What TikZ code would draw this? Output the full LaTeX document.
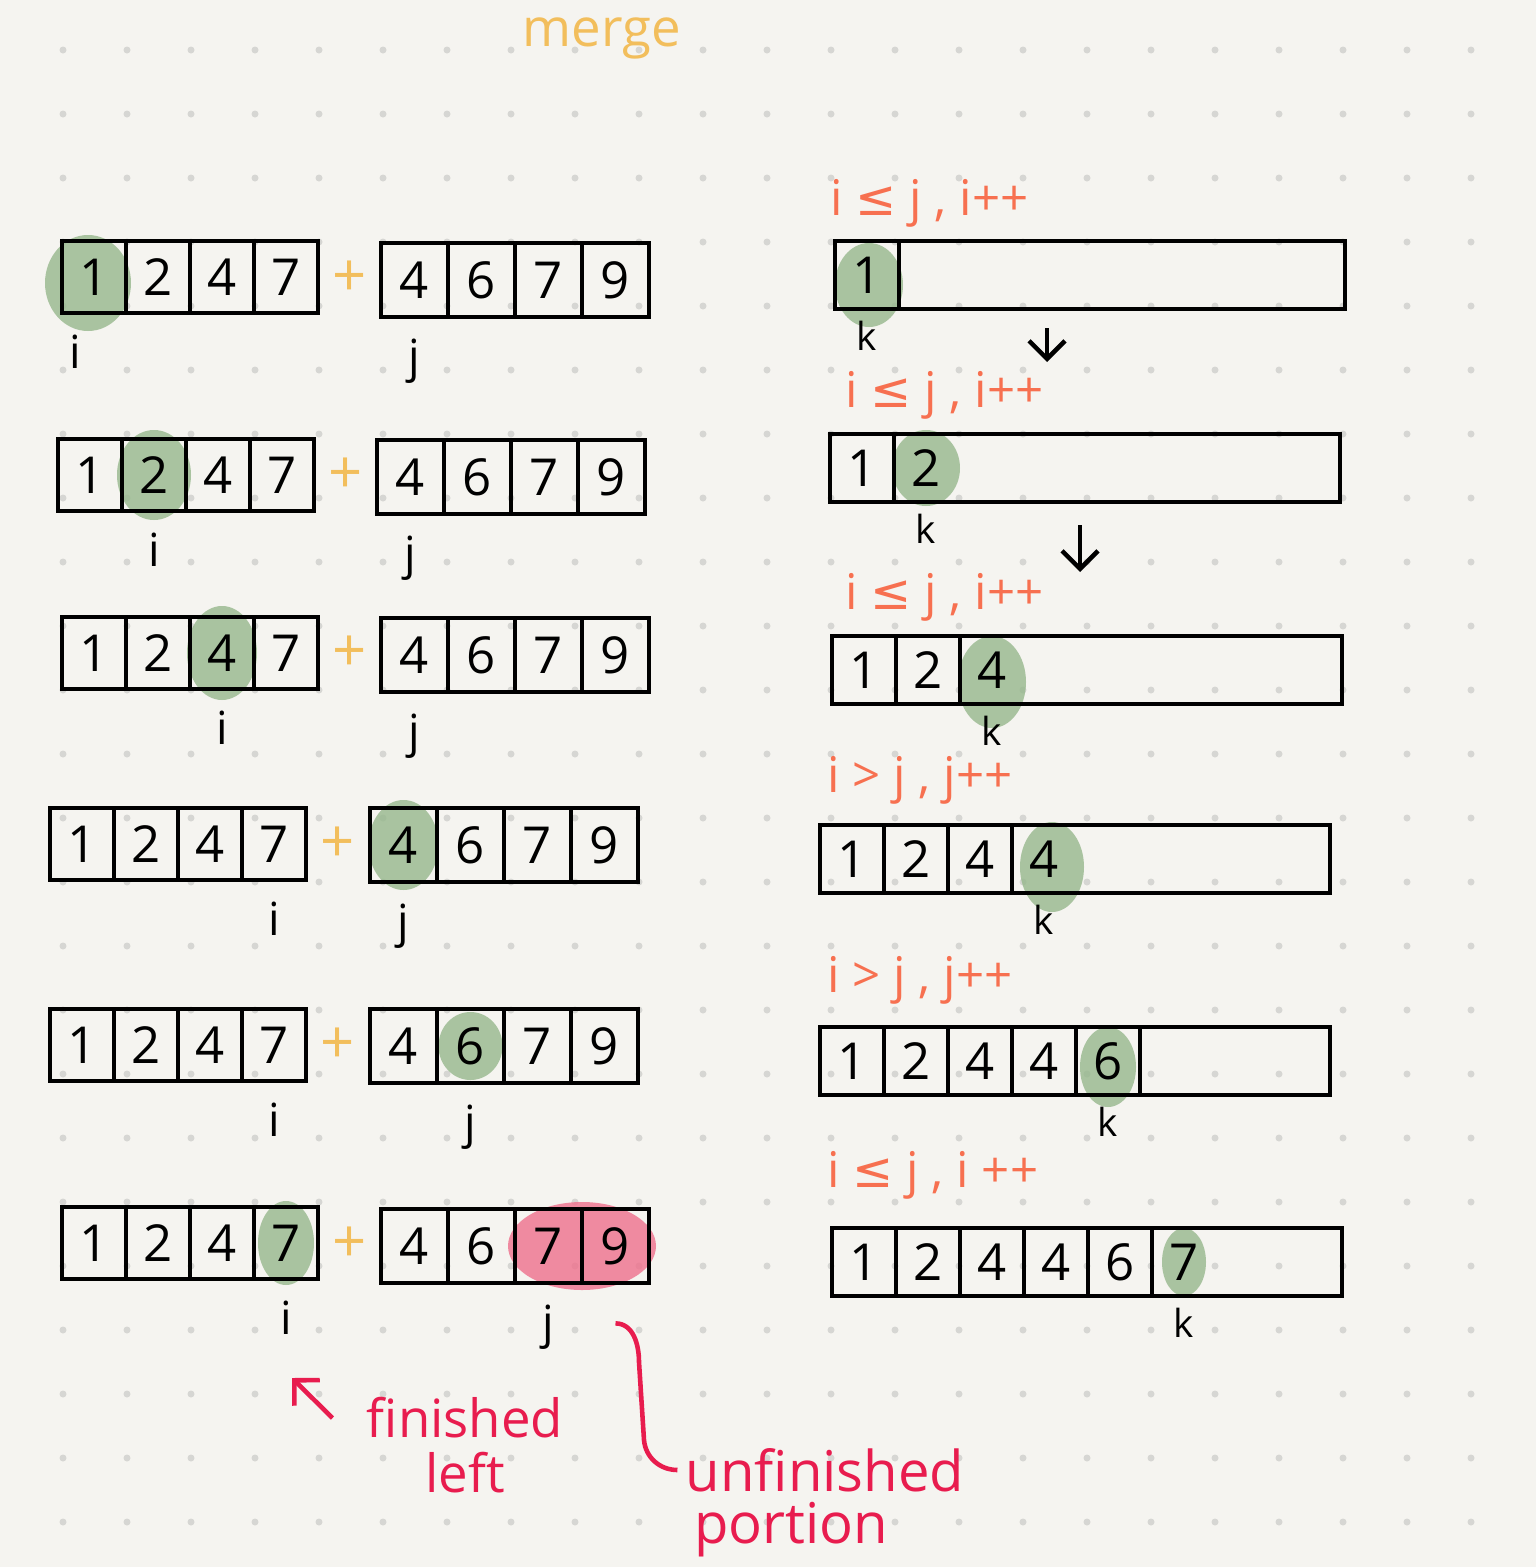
\documentclass[tikz,border=0pt]{standalone}
\usepackage{fontspec}
\setmainfont{Open Sans}
\newfontfamily\symfont{DejaVu Sans}
\usepackage{xcolor}
\usepackage{tikz}
\usetikzlibrary{positioning, arrows.meta, backgrounds, calc}

\definecolor{paper}{RGB}{245,244,240}
\definecolor{dotgray}{RGB}{214,214,211}
\definecolor{mustard}{RGB}{242,190,92}
\definecolor{salmon}{RGB}{247,112,80}
\definecolor{crimson}{RGB}{232,28,78}
\definecolor{sage}{RGB}{150,183,140}
\definecolor{rose}{RGB}{238,112,140}

\begin{document}
\begin{tikzpicture}[
  line width=1.35pt,
  >={Straight Barb[length=1.8mm, width=3.6mm]},
  cell/.style={draw, minimum width=0.64cm, minimum height=0.72cm, inner sep=0pt,
               font=\fontsize{14.5}{17}\selectfont},
  cellr/.style={cell, minimum width=0.67cm, minimum height=0.74cm},
  cello/.style={cell, minimum height=0.68cm},
  newcell/.style={cello, draw=none},
  outbox/.style={draw, minimum width=5.1cm, minimum height=0.68cm, inner sep=0pt,
                 outer sep=0pt, anchor=west},
  ptr/.style={font=\fontsize{13}{15}\selectfont, inner sep=0pt},
  kptr/.style={font=\fontsize{11}{13}\selectfont, inner sep=0pt},
  cond/.style={text=salmon, font=\fontsize{14}{16}\selectfont, anchor=west, inner sep=0pt},
  plus/.style={text=mustard, font=\fontsize{17}{20}\selectfont},
  note/.style={text=crimson, font=\fontsize{15}{18}\selectfont, inner sep=0pt},
  hl/.style={fill=sage, opacity=0.8},
  seta/.style={->, line width=1.3pt},
  notaseta/.style={->, crimson, line width=1.3pt},
  notalinha/.style={crimson, line width=1.3pt}
]
\useasboundingbox (0,0) rectangle (15.36,-15.67);

% ---------- Paper and dot grid ----------
\begin{scope}[on background layer]
  \fill[paper] (0,0) rectangle (15.36,-15.67);
  \foreach \x in {0,...,22}
    \foreach \y in {0,...,23}
      \fill[dotgray] ({0.63+0.64*\x},{-0.50-0.64*\y}) circle (0.035);
\end{scope}

% ---------- Title ----------
\node[text=mustard, font=\fontsize{15}{18}\selectfont] (title) at (6.02,-0.38) {merge};

% ---------- Left and right halves (one row per step) ----------
\foreach \r/\lx/\ly/\rx/\ry in {1/0.62/2.77/3.81/2.80, 2/0.58/4.75/3.77/4.77,
                                3/0.62/6.53/3.81/6.55, 4/0.50/8.44/3.70/8.45,
                                5/0.50/10.45/3.70/10.46, 6/0.62/12.43/3.81/12.46} {
  \foreach \v [count=\n] in {1,2,4,7}
    \node[cell] (L\r-\n) at ({\lx+0.64*\n-0.32},-\ly) {\v};
  \foreach \v [count=\n] in {4,6,7,9}
    \node[cellr] (R\r-\n) at ({\rx+0.67*\n-0.335},-\ry) {\v};
  \node[plus] (p\r) at ($(L\r-4.east)!0.5!(R\r-1.west)$) {+};
}

% ---------- Pointers i / j ----------
\node[ptr, below=0.17cm of L1-1, xshift=-0.19cm] (i1) {i};
\foreach \r/\a in {2/2, 3/3, 4/4, 5/4, 6/4}
  \node[ptr, below=0.17cm of L\r-\a] (i\r) {i};
\foreach \r/\b in {1/1, 2/1, 3/1, 4/1, 5/2, 6/3}
  \node[ptr, below=0.17cm of R\r-\b] (j\r) {j};

% ---------- Merged output ----------
\foreach \r/\ox/\oy in {1/8.35/2.75, 2/8.30/4.68, 3/8.32/6.70,
                        4/8.20/8.59, 5/8.20/10.61, 6/8.32/12.62}
  \node[outbox] (O\r) at (\ox,-\oy) {};

\foreach \r/\vals/\nv/\cur in {1/{1}/1/cello, 2/{1,2}/2/newcell, 3/{1,2,4}/3/newcell,
                               4/{1,2,4,4}/4/newcell, 5/{1,2,4,4,6}/5/cello,
                               6/{1,2,4,4,6,7}/6/newcell}
  \foreach \v [count=\n] in \vals {
    \ifnum\n<\nv\relax \def\sty{cello}\else\def\sty{\cur}\fi
    \node[\sty] (O\r-\n) at ($(O\r.west)+({0.64*\n-0.32},0)$) {\v};
  }

\foreach \r in {1,...,6}
  \node[kptr, below=0.07cm of O\r-\r] (k\r) {k};

% ---------- Conditions ----------
\node[cond] (c1) at (8.28,-2.03)  {i {\symfont ≤} j , i++};
\node[cond] (c2) at (8.43,-3.95)  {i {\symfont ≤} j , i++};
\node[cond] (c3) at (8.43,-5.97)  {i {\symfont ≤} j , i++};
\node[cond] (c4) at (8.25,-7.80)  {i > j , j++};
\node[cond] (c5) at (8.25,-9.80)  {i > j , j++};
\node[cond] (c6) at (8.25,-11.75) {i {\symfont ≤} j , i ++};

% ---------- Small down arrows ----------
\coordinate (a1) at (10.47,-3.28);
\coordinate (b1) at (10.47,-3.62);
\coordinate (a2) at (10.80,-5.25);
\coordinate (b2) at (10.80,-5.72);
\draw[seta] (a1) -- (b1);
\draw[seta] (a2) -- (b2);

% ---------- Notes ----------
\node[note] (fin1) at (4.65,-14.18) {finished};
\node[note] (fin2) at (4.65,-14.73) {left};
\node[note, font=\fontsize{16}{18}\selectfont] (unf1) at (8.25,-14.70) {unfinished};
\node[note, font=\fontsize{16}{18}\selectfont] (unf2) at (7.91,-15.30) {portion};

\coordinate (fintip) at (2.92,-13.78);
\draw[notaseta] ([xshift=-0.32cm]fin1.west) -- (fintip);
\draw[notalinha] ([yshift=-0.38cm]R6-4.south) to[out=0,in=90] (6.39,-13.62)
  -- (6.44,-14.40) to[out=-85,in=180] ([xshift=-0.06cm]unf1.west);

% ---------- Highlights ----------
\begin{scope}[on background layer]
  \fill[hl] ([shift={(-0.06,-0.06)}]L1-1.center) ellipse (0.43 and 0.48);
  \fill[hl] ([shift={(0.02,-0.1)}]O1-1.center) ellipse (0.34 and 0.42);
  \fill[hl] (L2-2.center) ellipse (0.37 and 0.45);
  \fill[hl] (O2-2.center) ellipse (0.34 and 0.38);
  \fill[hl] (L3-3.center) ellipse (0.35 and 0.47);
  \fill[hl] ([yshift=-0.12cm]O3-3.center) ellipse (0.34 and 0.46);
  \fill[hl] (R4-1.center) ellipse (0.35 and 0.45);
  \fill[hl] ([shift={(0.08,-0.08)}]O4-4.center) ellipse (0.32 and 0.45);
  \fill[hl] (R5-2.center) ellipse (0.32 and 0.34);
  \fill[hl] ([yshift=-0.06cm]O5-5.center) ellipse (0.28 and 0.40);
  \fill[hl] (L6-4.center) ellipse (0.28 and 0.42);
  \fill[hl, fill=rose] ($(R6-3)!0.5!(R6-4)$) ellipse (0.74 and 0.44);
  \fill[hl] (O6-6.center) ellipse (0.22 and 0.34);
\end{scope}

\end{tikzpicture}
\end{document}
